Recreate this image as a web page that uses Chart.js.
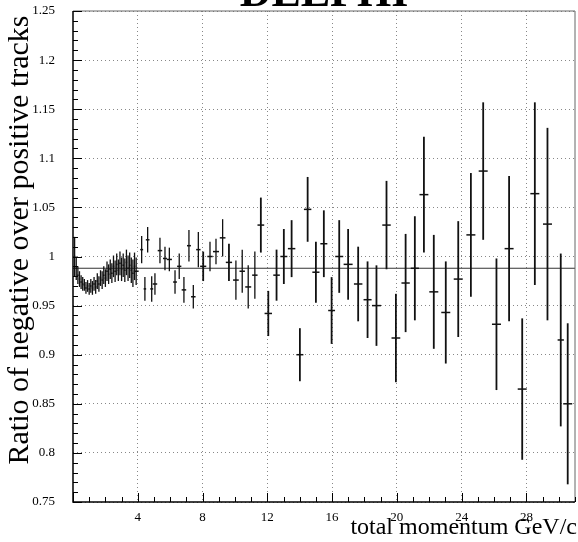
<!DOCTYPE html>
<html>
<head>
<meta charset="utf-8">
<script src="https://cdn.jsdelivr.net/npm/chart.js@4.4.1/dist/chart.umd.min.js"></script>
<style>
  html, body { margin: 0; padding: 0; background: #fff; }
</style>
</head>
<body>
<canvas id="ratioChart" width="578" height="542"></canvas>
<script>
// momentum bins (GeV/c), ratio and its error
const momentum = [
  0.1, 0.2, 0.3, 0.4, 0.5, 0.6, 0.7, 0.8, 0.9, 1.0,
  1.1, 1.2, 1.3, 1.4, 1.5, 1.6, 1.7, 1.8, 1.9, 2.0,
  2.1, 2.2, 2.3, 2.4, 2.5, 2.6, 2.7, 2.8, 2.9, 3.0,
  3.1, 3.2, 3.3, 3.4, 3.5, 3.6, 3.7, 3.8, 3.9,
  4.24, 4.44, 4.61, 4.86, 5.06, 5.37, 5.68, 5.95, 6.30, 6.56,
  6.85, 7.16, 7.43, 7.74, 8.04, 8.46, 8.83, 9.24, 9.63, 10.06,
  10.45, 10.82, 11.23, 11.60, 12.06, 12.57, 13.02, 13.50, 14.01, 14.49,
  15.00, 15.49, 15.97, 16.44, 16.99, 17.61, 18.19, 18.74, 19.36, 19.94,
  20.54, 21.11, 21.67, 22.28, 23.02, 23.79, 24.57, 25.33, 26.15, 26.93,
  27.74, 28.52, 29.30, 30.12, 30.55
];
const ratio = [
  1.000, 0.988, 0.981, 0.977, 0.974, 0.972, 0.971, 0.968, 0.970, 0.967,
  0.970, 0.968, 0.972, 0.969, 0.975, 0.972, 0.978, 0.976, 0.981, 0.978,
  0.985, 0.982, 0.987, 0.983, 0.990, 0.985, 0.992, 0.986, 0.993, 0.987,
  0.991, 0.986, 0.994, 0.988, 0.991, 0.986, 0.983, 0.990, 0.985,
  1.007, 0.967, 1.017, 0.967, 0.972, 1.006, 0.998, 0.997, 0.974, 0.990,
  0.966, 1.011, 0.959, 1.007, 0.990, 1.000, 1.005, 1.019, 0.994, 0.976,
  0.985, 0.969, 0.981, 1.032, 0.942, 0.981, 1.000, 1.008, 0.900, 1.048,
  0.984, 1.013, 0.945, 1.000, 0.992, 0.972, 0.956, 0.950, 1.032, 0.917,
  0.973, 0.988, 1.063, 0.964, 0.943, 0.977, 1.022, 1.087, 0.931, 1.008,
  0.865, 1.064, 1.033, 0.915, 0.850
];
const ratioErr = [
  0.020, 0.012, 0.009, 0.008, 0.007, 0.007, 0.006, 0.006, 0.006, 0.006,
  0.007, 0.007, 0.007, 0.007, 0.008, 0.008, 0.008, 0.009, 0.009, 0.009,
  0.010, 0.010, 0.010, 0.010, 0.011, 0.011, 0.011, 0.011, 0.012, 0.012,
  0.012, 0.012, 0.013, 0.013, 0.013, 0.013, 0.014, 0.014, 0.014,
  0.014, 0.012, 0.013, 0.013, 0.011, 0.013, 0.012, 0.012, 0.012, 0.013,
  0.013, 0.016, 0.012, 0.018, 0.015, 0.015, 0.013, 0.019, 0.019, 0.020,
  0.022, 0.022, 0.024, 0.028, 0.023, 0.026, 0.028, 0.029, 0.027, 0.033,
  0.031, 0.034, 0.034, 0.037, 0.036, 0.038, 0.039, 0.041, 0.045, 0.045,
  0.050, 0.053, 0.059, 0.058, 0.052, 0.059, 0.063, 0.070, 0.067, 0.074,
  0.072, 0.093, 0.098, 0.088, 0.082
];
const fitLevel = 0.988;

const xRange = [0, 31];
const yRange = [0.75, 1.25];
const xTicks = [4, 8, 12, 16, 20, 24, 28];
const yTicks = [0.75, 0.8, 0.85, 0.9, 0.95, 1, 1.05, 1.1, 1.15, 1.2, 1.25];
const yTickLabels = ['0.75', '0.8', '0.85', '0.9', '0.95', '1', '1.05', '1.1', '1.15', '1.2', '1.25'];

const serif = '"Liberation Serif", "DejaVu Serif", serif';

// vertical error bars with a small horizontal mark at the central value
const errorBars = {
  id: 'errorBars',
  afterDatasetsDraw(chart) {
    const { ctx, chartArea, scales: { x, y } } = chart;
    ctx.save();
    ctx.beginPath();
    ctx.rect(chartArea.left, chartArea.top, chartArea.width, chartArea.height);
    ctx.clip();
    ctx.strokeStyle = '#111';
    momentum.forEach((m, i) => {
      const px = x.getPixelForValue(m);
      const py = y.getPixelForValue(ratio[i]);
      const top = y.getPixelForValue(ratio[i] + ratioErr[i]);
      const bot = y.getPixelForValue(ratio[i] - ratioErr[i]);
      const next = i < momentum.length - 1 ? x.getPixelForValue(momentum[i + 1]) : px + 12;
      const half = Math.min(4.5, (next - px) * 0.45);
      ctx.lineWidth = half < 3 ? 1.3 : 1.8;
      ctx.beginPath();
      ctx.moveTo(px, top);
      ctx.lineTo(px, bot);
      ctx.stroke();
      ctx.lineWidth = 1.5;
      ctx.beginPath();
      ctx.moveTo(px - half, py);
      ctx.lineTo(px + half, py);
      ctx.stroke();
    });
    ctx.restore();
  }
};

// frame, inward ticks and the text around the plot
const frameAndText = {
  id: 'frameAndText',
  afterDraw(chart) {
    const { ctx, chartArea: a, scales: { x, y } } = chart;
    ctx.save();
    ctx.strokeStyle = '#666';
    ctx.lineWidth = 1;
    ctx.beginPath();
    ctx.moveTo(a.left, a.top);
    ctx.lineTo(a.right, a.top);
    ctx.lineTo(a.right, a.bottom);
    ctx.stroke();
    ctx.strokeStyle = '#000';
    ctx.lineWidth = 1.5;
    ctx.beginPath();
    ctx.moveTo(a.left, a.top);
    ctx.lineTo(a.left, a.bottom);
    ctx.lineTo(a.right, a.bottom);
    ctx.stroke();

    ctx.lineWidth = 1;
    ctx.beginPath();
    for (let v = Math.ceil(x.min); v <= x.max; v++) {
      const px = Math.round(x.getPixelForValue(v)) + 0.5;
      const len = v % 4 === 0 ? 9 : 5;
      ctx.moveTo(px, a.bottom);
      ctx.lineTo(px, a.bottom - len);
    }
    for (let k = 0; k <= 50; k++) {
      const py = Math.round(y.getPixelForValue(y.min + k * 0.01)) + 0.5;
      const len = k % 5 === 0 ? 9 : 5;
      ctx.moveTo(a.left, py);
      ctx.lineTo(a.left + len, py);
    }
    ctx.stroke();

    ctx.fillStyle = '#000';
    ctx.font = 'bold 44px ' + serif;
    ctx.textAlign = 'center';
    ctx.textBaseline = 'alphabetic';
    ctx.fillText('DELPHI', 324, 6);

    ctx.font = '24px ' + serif;
    ctx.textAlign = 'right';
    ctx.fillText('total momentum GeV/c', 577, 534);

    ctx.translate(28, 240);
    ctx.rotate(-Math.PI / 2);
    ctx.textAlign = 'center';
    ctx.font = '30px ' + serif;
    ctx.fillText('Ratio of negative over positive tracks', 0, 0);
    ctx.restore();
  }
};

const ctx = document.getElementById('ratioChart').getContext('2d');
const ratioChart = new Chart(ctx, {
  type: 'scatter',
  data: {
    datasets: [{
      label: 'ratio',
      data: momentum.map((m, i) => ({ x: m, y: ratio[i] })),
      pointRadius: 0,
      showLine: false
    }, {
      type: 'line',
      label: 'fit',
      data: [{ x: xRange[0], y: fitLevel }, { x: xRange[1], y: fitLevel }],
      borderColor: '#333',
      borderWidth: 1.1,
      pointRadius: 0,
      fill: false
    }]
  },
  options: {
    responsive: false,
    animation: false,
    layout: { padding: { top: 11, right: 3, left: 0, bottom: 0 } },
    plugins: {
      legend: { display: false },
      tooltip: { enabled: false }
    },
    scales: {
      x: {
        type: 'linear',
        min: xRange[0],
        max: xRange[1],
        afterFit: s => { s.height = 40; s.paddingLeft = 0; s.paddingRight = 0; },
        afterBuildTicks: s => { s.ticks = xTicks.map(v => ({ value: v })); },
        ticks: {
          autoSkip: false,
          maxRotation: 0,
          padding: 8,
          color: '#000',
          font: { family: serif, size: 13 },
          callback: v => String(v)
        },
        grid: { drawTicks: false, color: '#888', lineWidth: 1 },
        border: { display: false, dash: [1, 3] }
      },
      y: {
        type: 'linear',
        min: yRange[0],
        max: yRange[1],
        afterFit: s => { s.width = 73; s.paddingTop = 0; s.paddingBottom = 0; },
        afterBuildTicks: s => { s.ticks = yTicks.map(v => ({ value: v })); },
        ticks: {
          autoSkip: false,
          padding: 18,
          color: '#000',
          font: { family: serif, size: 13 },
          callback: (v, i) => yTickLabels[i]
        },
        grid: { drawTicks: false, color: '#888', lineWidth: 1 },
        border: { display: false, dash: [1, 3] }
      }
    }
  },
  plugins: [errorBars, frameAndText]
});
</script>
</body>
</html>
